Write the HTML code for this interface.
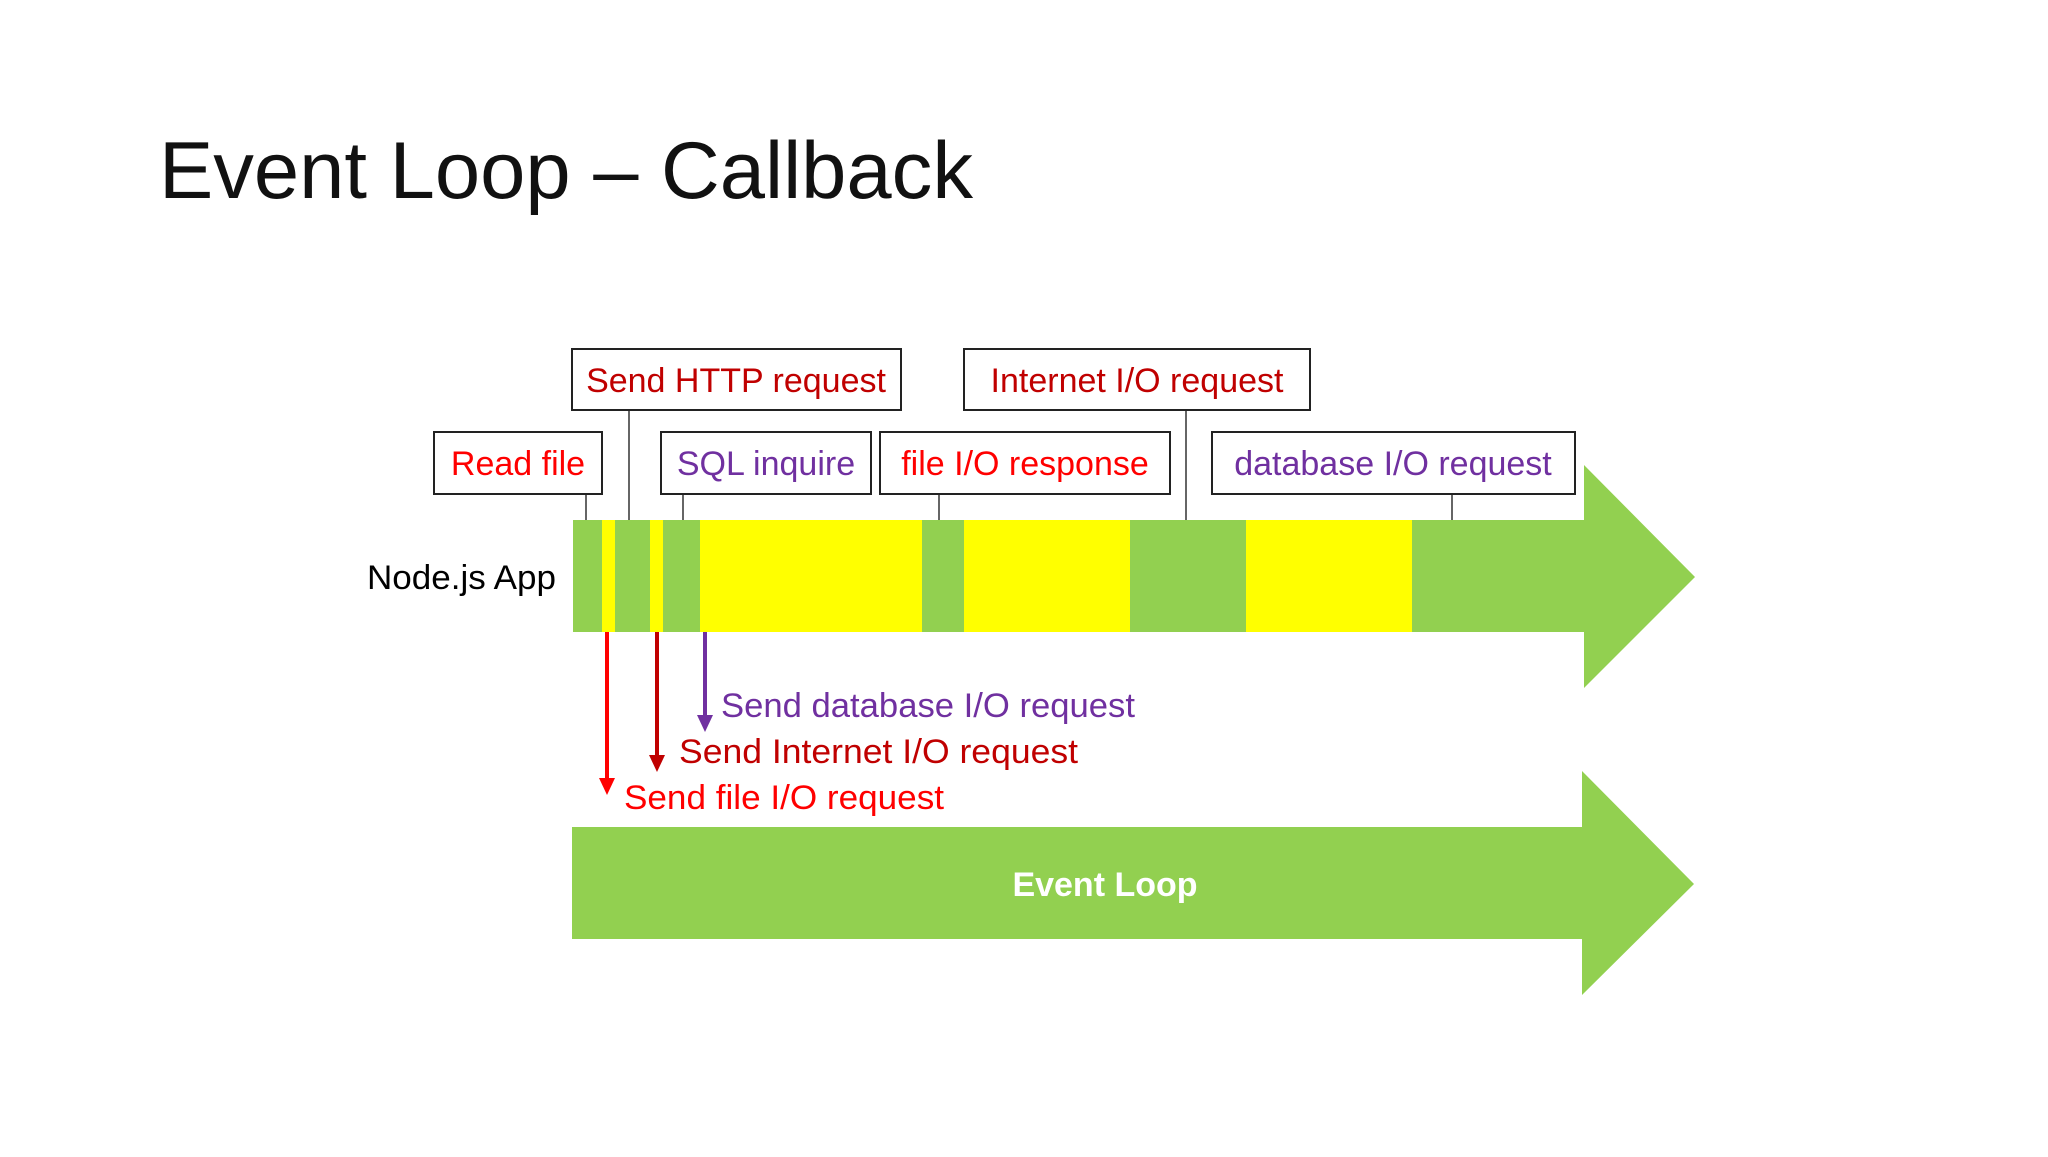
<!DOCTYPE html>
<html><head><meta charset="utf-8"><style>
body{margin:0;width:2048px;height:1152px;background:#fff;overflow:hidden;font-family:"Liberation Sans",sans-serif}
</style></head><body>
<svg width="2048" height="1152" xmlns="http://www.w3.org/2000/svg" font-family="Liberation Sans, sans-serif">
<text x="159" y="198" font-size="81" fill="#111" textLength="814" lengthAdjust="spacingAndGlyphs">Event Loop – Callback</text>
<polygon points="573,520 1584,520 1584,465 1695,577 1584,688 1584,632 573,632" fill="#92d050"/>
<g fill="#ffff00">
<rect x="602" y="520" width="13" height="112"/>
<rect x="650" y="520" width="13" height="112"/>
<rect x="700" y="520" width="222" height="112"/>
<rect x="964" y="520" width="166" height="112"/>
<rect x="1246" y="520" width="166" height="112"/>
</g>
<text x="556" y="589" font-size="34" text-anchor="end" fill="#000" textLength="189" lengthAdjust="spacingAndGlyphs">Node.js App</text>
<g stroke="#333" stroke-width="1.5">
<line x1="586" y1="494" x2="586" y2="520"/>
<line x1="629" y1="410" x2="629" y2="520"/>
<line x1="683" y1="494" x2="683" y2="520"/>
<line x1="939" y1="494" x2="939" y2="520"/>
<line x1="1186" y1="410" x2="1186" y2="520"/>
<line x1="1452" y1="494" x2="1452" y2="520"/>
</g>
<g fill="#fff" stroke="#222" stroke-width="2">
<rect x="572" y="349" width="329" height="61"/>
<rect x="964" y="349" width="346" height="61"/>
<rect x="434" y="432" width="168" height="62"/>
<rect x="661" y="432" width="210" height="62"/>
<rect x="880" y="432" width="290" height="62"/>
<rect x="1212" y="432" width="363" height="62"/>
</g>
<g font-size="34" text-anchor="middle">
<text x="736" y="392" fill="#c00000">Send HTTP request</text>
<text x="1137" y="392" fill="#c00000">Internet I/O request</text>
<text x="518" y="475" fill="#ff0000">Read file</text>
<text x="766" y="475" fill="#7030a0">SQL inquire</text>
<text x="1025" y="475" fill="#ff0000">file I/O response</text>
<text x="1393" y="475" fill="#7030a0">database I/O request</text>
</g>
<line x1="607" y1="632" x2="607" y2="780" stroke="#ff0000" stroke-width="4"/>
<polygon points="599,778 615,778 607,795" fill="#ff0000"/>
<line x1="657" y1="632" x2="657" y2="757" stroke="#c00000" stroke-width="4"/>
<polygon points="649,755 665,755 657,772" fill="#c00000"/>
<line x1="705" y1="632" x2="705" y2="717" stroke="#7030a0" stroke-width="4"/>
<polygon points="697,715 713,715 705,732" fill="#7030a0"/>
<g font-size="34">
<text x="721" y="717" fill="#7030a0" textLength="414" lengthAdjust="spacingAndGlyphs">Send database I/O request</text>
<text x="679" y="763" fill="#c00000" textLength="399" lengthAdjust="spacingAndGlyphs">Send Internet I/O request</text>
<text x="624" y="809" fill="#ff0000" textLength="320" lengthAdjust="spacingAndGlyphs">Send file I/O request</text>
</g>
<polygon points="572,827 1582,827 1582,771 1694,884 1582,995 1582,939 572,939" fill="#92d050"/>
<text x="1105" y="896" font-size="34" font-weight="bold" fill="#fff" text-anchor="middle">Event Loop</text>
</svg>
</body></html>
